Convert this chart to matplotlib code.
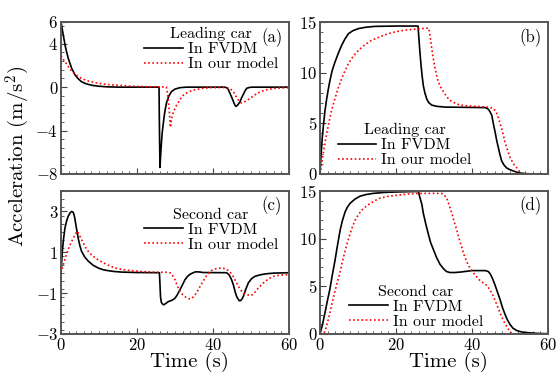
import matplotlib
matplotlib.use("Agg")
import matplotlib.pyplot as plt
from matplotlib.ticker import MultipleLocator

plt.rcParams["font.family"] = "cmr10"
plt.rcParams["mathtext.fontset"] = "cm"
plt.rcParams["axes.formatter.use_mathtext"] = True

# (a) leading car acceleration
t_a_fv = [0, 0.3, 0.6, 1.05, 1.5, 1.9, 2.4, 2.8, 3.3, 3.7, 4.5, 5.4, 6.3, 7.2, 8.5, 9.8, 12, 15,
          25.8, 25.85, 25.95, 26.05, 26.3, 26.6, 26.9, 27.3, 27.8, 28.4, 29.1, 30.0, 31.3, 33,
          43, 43.6, 44.0, 44.5, 45.0, 45.4, 45.75, 46.05, 46.5, 47.1, 47.5, 48, 48.5, 48.9, 49.7, 50.5, 60]
a_a_fv = [6.05, 5.4, 4.8, 3.9, 3.2, 2.67, 2.15, 1.74, 1.4, 1.12, 0.78, 0.5, 0.35, 0.25, 0.15, 0.09, 0.03, 0,
          0, -2.0, -5.0, -7.4, -5.8, -4.3, -3.4, -2.3, -1.4, -0.8, -0.4, -0.18, -0.05, 0,
          0, -0.05, -0.2, -0.6, -1.0, -1.35, -1.65, -1.77, -1.65, -1.35, -1.0, -0.65, -0.3, -0.1, -0.02, 0, 0]
t_a_om = [0, 0.5, 1.05, 1.9, 2.8, 3.7, 4.6, 5.8, 7.2, 8.9, 10.7, 13, 16, 18.5, 21.2, 24, 27.7,
          28.0, 28.4, 28.8, 29.1, 29.5, 30.0, 30.4, 31.3, 32.2, 33.5, 34.8, 37, 39.2, 43,
          44.0, 44.5, 45.2, 45.8, 46.2, 46.7, 47.1, 47.5, 48.2, 49.0, 49.7, 51, 52.4, 54, 55.9, 58, 60]
a_a_om = [2.9, 2.6, 2.35, 1.9, 1.49, 1.2, 0.96, 0.74, 0.56, 0.42, 0.31, 0.22, 0.15, 0.09, 0.05, 0.03, 0.02,
          -0.5, -1.8, -3.7, -2.9, -2.4, -1.95, -1.67, -1.15, -0.74, -0.45, -0.28, -0.12, -0.05, -0.03,
          -0.08, -0.15, -0.35, -0.65, -0.95, -1.2, -1.38, -1.46, -1.38, -1.2, -1.05, -0.72, -0.43, -0.25,
          -0.13, -0.07, -0.05]

# (b) leading car velocity
t_b_fv = [0, 0.3, 0.6, 0.9, 1.3, 1.75, 2.2, 2.6, 3.2, 3.9, 4.8, 5.7, 6.6, 7.5, 8.7, 10.1, 12, 14.5, 20,
          25.8, 26.0, 26.3, 26.6, 26.9, 27.2, 27.6, 28.1, 28.6, 29.4, 30.7, 33, 38, 43.5,
          44.3, 44.8, 45.2, 45.6, 46.1, 46.5, 47.0, 47.4, 47.8, 48.4, 49.1, 50, 50.9, 51.8, 52.6, 54, 56, 60]
v_b_fv = [0, 2.0, 3.6, 4.8, 6.2, 7.4, 8.4, 9.2, 10.2, 11.0, 11.9, 12.7, 13.35, 13.85, 14.15, 14.35, 14.48,
          14.57, 14.6, 14.6, 13.5, 12.0, 10.7, 9.6, 8.7, 8.0, 7.4, 7.05, 6.8, 6.68, 6.6, 6.58, 6.55,
          6.4, 6.1, 5.8, 5.0, 4.1, 3.3, 2.5, 1.85, 1.3, 0.9, 0.6, 0.42, 0.3, 0.18, 0.1, 0.04, 0, 0]
t_b_om = [0, 0.4, 0.9, 1.5, 2.2, 3.0, 3.9, 4.8, 5.7, 6.6, 7.5, 8.7, 10.1, 11.8, 13.6, 15.8, 18, 20, 22.4,
          25, 28.6, 28.8, 29.1, 29.4, 29.8, 30.3, 30.7, 31.1, 31.8, 32.5, 33.3, 34.2, 35.5, 36.8, 39,
          41.2, 44, 45.6, 46.2, 46.6, 47.0, 47.4, 47.8, 48.2, 48.7, 49.3, 50.0, 50.9, 51.8, 52.5, 53.3, 60]
v_b_om = [0, 0.9, 2.15, 3.5, 4.8, 6.2, 7.4, 8.5, 9.4, 10.2, 10.9, 11.6, 12.2, 12.75, 13.2, 13.55, 13.85,
          14.05, 14.2, 14.3, 14.4, 14.0, 13.3, 12.4, 11.4, 10.4, 9.7, 9.1, 8.55, 8.1, 7.65, 7.26, 7.0, 6.8,
          6.72, 6.67, 6.6, 6.5, 6.2, 5.9, 5.5, 5.0, 4.5, 3.9, 3.1, 2.4, 1.66, 1.0, 0.6, 0.25, 0, 0]

# (c) second car acceleration
t_c_fv = [0, 0.35, 0.7, 1.05, 1.5, 1.9, 2.4, 2.8, 3.25, 3.6, 3.9, 4.25, 4.6, 5.0, 5.4, 6.2, 7.2, 8.5, 9.8,
          11, 12.4, 14, 16, 20, 25.9, 26.05, 26.2, 26.4, 26.8, 27.1, 27.6, 28.2, 28.7, 29.3, 30.0, 30.6,
          31.3, 32.0, 32.6, 33.3, 34.0, 35.3, 36.3, 37.4, 43.6, 44.3, 44.9, 45.4, 45.8, 46.3, 46.9,
          47.3, 47.7, 48.0, 48.6, 49.3, 50.1, 51, 52.5, 54.1, 56, 60]
a_c_fv = [0, 1.05, 1.7, 2.2, 2.55, 2.77, 2.93, 3.0, 2.95, 2.7, 2.36, 1.98, 1.62, 1.3, 1.05, 0.78, 0.56,
          0.36, 0.23, 0.15, 0.1, 0.06, 0.03, 0.01, 0, -0.6, -1.2, -1.45, -1.55, -1.57, -1.5, -1.42, -1.38,
          -1.34, -1.25, -1.08, -0.84, -0.58, -0.35, -0.18, -0.07, 0.04, 0.04, 0.01, 0, -0.12, -0.35,
          -0.62, -0.92, -1.2, -1.37, -1.36, -1.27, -1.15, -0.82, -0.5, -0.3, -0.18, -0.1, -0.05, -0.02, 0]
t_c_om = [0, 0.6, 1.2, 1.9, 2.6, 3.25, 3.8, 4.3, 4.8, 5.4, 6.1, 6.8, 7.6, 8.5, 9.6, 10.7, 12.3, 14.2,
          16.4, 18.6, 21, 23.9, 28.0, 28.7, 29.3, 30.0, 30.6, 31.3, 32.0, 32.6, 33.3, 34.0, 34.6, 35.3,
          36.0, 36.6, 37.3, 37.9, 38.5, 39.2, 39.8, 40.5, 41.5, 42.5, 43.6, 44.5, 45.3, 46.0, 46.7,
          47.3, 48.0, 49.0, 50.0, 50.8, 51.5, 52.6, 53.7, 54.8, 55.9, 57.5, 59.4, 60]
a_c_om = [0, 0.4, 0.77, 1.13, 1.45, 1.7, 1.9, 2.03, 1.85, 1.62, 1.37, 1.13, 0.95, 0.8, 0.65, 0.53, 0.38,
          0.23, 0.15, 0.1, 0.06, 0.03, 0.02, 0, -0.12, -0.35, -0.63, -0.92, -1.07, -1.17, -1.25, -1.29,
          -1.22, -1.08, -0.88, -0.67, -0.45, -0.26, -0.08, 0.06, 0.13, 0.18, 0.22, 0.23, 0.17, 0.03,
          -0.18, -0.42, -0.67, -0.85, -1.0, -1.08, -1.12, -1.02, -0.84, -0.62, -0.43, -0.28, -0.18,
          -0.12, -0.1, -0.1]

# (d) second car velocity
t_d_fv = [0, 0.6, 1.3, 1.9, 2.6, 3.2, 3.9, 4.6, 5.3, 5.9, 6.6, 7.2, 7.9, 9.2, 10.5, 12, 14, 17, 20.2,
          25.9, 26.3, 26.8, 27.2, 27.8, 28.5, 29.1, 29.8, 30.7, 31.6, 32.5, 33.3, 34.2, 35.5, 37, 40,
          43.5, 44.3, 44.8, 45.3, 46.0, 46.7, 47.4, 48.0, 48.7, 49.3, 50.0, 50.8, 51.8, 53, 54.4, 56,
          57.9, 60]
v_d_fv = [0, 0.9, 2.2, 3.4, 4.7, 6.1, 7.6, 9.3, 10.9, 11.9, 12.8, 13.3, 13.7, 14.15, 14.45, 14.62, 14.75,
          14.85, 14.9, 14.95, 14.3, 13.6, 12.65, 11.6, 10.5, 9.6, 8.9, 8.0, 7.3, 6.85, 6.55, 6.45, 6.45,
          6.5, 6.65, 6.65, 6.55, 6.3, 5.9, 5.2, 4.4, 3.6, 2.8, 2.05, 1.5, 1.0, 0.6, 0.36, 0.22, 0.15,
          0.1, 0.05, 0.03]
t_d_om = [0, 0.6, 1.3, 1.9, 2.6, 3.2, 3.9, 4.6, 5.3, 5.9, 6.6, 7.2, 7.9, 8.5, 9.2, 10.1, 11.0, 12, 13.2,
          14.5, 15.8, 18, 20.2, 23, 26.3, 32, 32.6, 33.3, 34.0, 34.7, 35.3, 36.0, 36.6, 37.3, 37.9, 38.6,
          39.5, 40.4, 41.2, 42.1, 43.0, 43.9, 44.7, 45.6, 46.5, 47.4, 48.2, 49.1, 49.8, 50.4, 51, 60]
v_d_om = [0, 0.02, 0.25, 1.1, 2.2, 3.3, 4.4, 5.5, 6.5, 7.6, 8.7, 9.6, 10.5, 11.2, 11.9, 12.5, 13.0, 13.35,
          13.7, 14.0, 14.25, 14.45, 14.55, 14.68, 14.75, 14.75, 14.6, 14.3, 13.5, 12.65, 11.8, 10.9,
          10.0, 9.1, 8.3, 7.6, 6.9, 6.4, 6.0, 5.6, 5.35, 5.1, 4.65, 4.0, 3.1, 2.2, 1.45, 0.8, 0.35,
          0.05, 0, 0]

labels = ["In FVDM", "In our model"]

fig = plt.figure(figsize=(5.6, 3.72), dpi=100)
ax_a = fig.add_axes([61/560, 1-174/372, 228/560, 152/372])
ax_b = fig.add_axes([320/560, 1-174/372, 228/560, 152/372])
ax_c = fig.add_axes([61/560, 1-334/372, 228/560, 143/372])
ax_d = fig.add_axes([320/560, 1-334/372, 228/560, 143/372])

panels = [
    (ax_a, t_a_fv, a_a_fv, t_a_om, a_a_om, "(a)", "Leading car", "upper right", (1.0, 1.04)),
    (ax_b, t_b_fv, v_b_fv, t_b_om, v_b_om, "(b)", "Leading car", "lower left", (0.03, -0.03)),
    (ax_c, t_c_fv, a_c_fv, t_c_om, a_c_om, "(c)", "Second car", "upper right", (1.0, 0.96)),
    (ax_d, t_d_fv, v_d_fv, t_d_om, v_d_om, "(d)", "Second car", "lower left", (0.08, -0.04)),
]

for ax, t1, y1, t2, y2, tag, title, loc, anchor in panels:
    ax.plot(t1, y1, color="black", linewidth=1.2, label=labels[0])
    ax.plot(t2, y2, color="red", linewidth=1.2, linestyle=(0, (1, 1.5)), label=labels[1])
    ax.set_xlim(0, 60)
    ax.xaxis.set_major_locator(MultipleLocator(20))
    ax.xaxis.set_minor_locator(MultipleLocator(2))
    ax.tick_params(which="both", direction="in", top=False, right=False, labelsize=12,
                   color="#444444", pad=2)
    ax.tick_params(which="major", length=4)
    ax.tick_params(which="minor", length=2.5)
    for s in ax.spines.values():
        s.set_color("#555555")
        s.set_linewidth(1.4)
    ax.text(0.97, 0.96, tag, transform=ax.transAxes, ha="right", va="top", fontsize=12)
    ax.legend(title=title, loc=loc, bbox_to_anchor=anchor, frameon=False, fontsize=11.5,
              title_fontsize=11.5, handlelength=2.4, borderpad=0.2, labelspacing=0.05,
              handletextpad=0.3)

ax_a.set_ylim(-8, 6)
ax_a.set_yticks([-8, -4, 0, 4, 6])
ax_a.yaxis.set_minor_locator(MultipleLocator(0.8))
ax_c.set_ylim(-3, 4)
ax_c.set_yticks([-3, -1, 1, 3])
ax_c.yaxis.set_minor_locator(MultipleLocator(0.4))
for ax in (ax_b, ax_d):
    ax.set_ylim(0, 15)
    ax.set_yticks([0, 5, 10, 15])
    ax.yaxis.set_minor_locator(MultipleLocator(1))

ax_a.tick_params(labelbottom=False)
ax_b.tick_params(labelbottom=False)
fig.text(189/560, 1-367/372, "Time (s)", ha="center", va="baseline", fontsize=15)
fig.text(448/560, 1-367/372, "Time (s)", ha="center", va="baseline", fontsize=15)
fig.text(18/560, 1-156/372, "Acceleration (m/s$^2$)", rotation=90, ha="center", va="center", fontsize=15)

fig.savefig("out.png", dpi=100)
